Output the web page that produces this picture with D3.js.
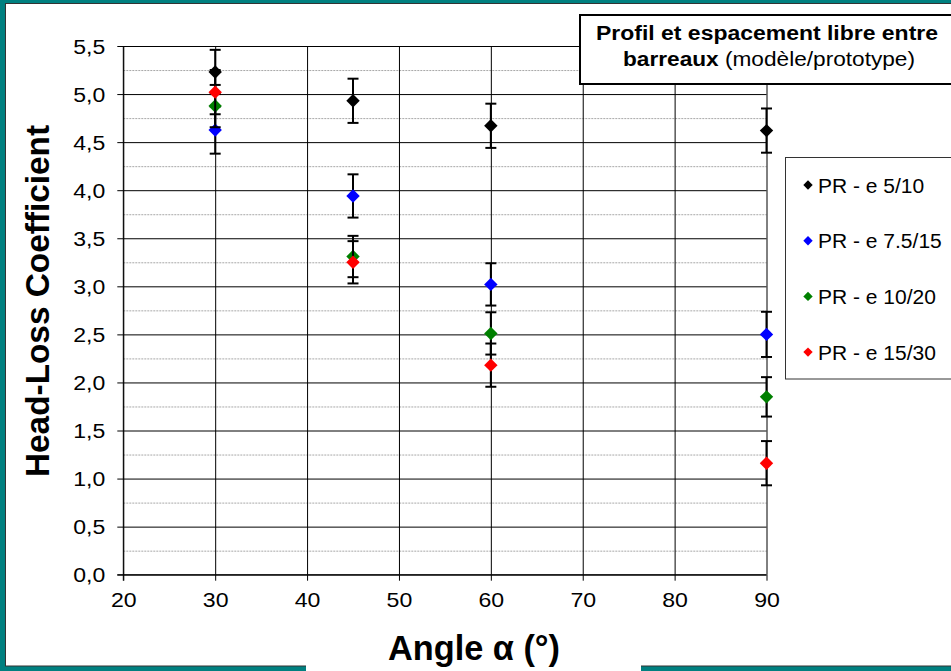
<!DOCTYPE html>
<html><head><meta charset="utf-8">
<script src="https://cdn.jsdelivr.net/npm/d3@7"></script>
<style>
html,body{margin:0;padding:0;background:#fff;}
svg{display:block;font-family:"Liberation Sans",Arial,sans-serif;}
</style></head>
<body><svg id="c" width="951" height="671"></svg>
<script>
// ---- data ----
const angles = [30, 45, 60, 90];
const seriesNames = ["PR - e 5/10", "PR - e 7.5/15", "PR - e 10/20", "PR - e 15/30"];
const seriesColors = ["#000000", "#0000ff", "#008000", "#ff0000"];
const valuesE5 = [5.23, 4.93, 4.67, 4.62];
const errorsE5 = [0.23, 0.23, 0.23, 0.23];
const valuesE75 = [4.625, 3.94, 3.02, 2.50];
const errorsE75 = [0.245, 0.225, 0.22, 0.235];
const valuesE10 = [4.875, 3.31, 2.51, 1.85];
const errorsE10 = [0.22, 0.215, 0.22, 0.205];
const valuesE15 = [5.02, 3.25, 2.18, 1.16];
const errorsE15 = [0.23, 0.22, 0.225, 0.23];
const xTicks = [20, 30, 40, 50, 60, 70, 80, 90];
const yTicks = [0, 0.5, 1, 1.5, 2, 2.5, 3, 3.5, 4, 4.5, 5, 5.5];
const yMinorTicks = [0.25, 0.75, 1.25, 1.75, 2.25, 2.75, 3.25, 3.75, 4.25, 4.75, 5.25];
const titleLine1 = "Profil et espacement libre entre";
const titleLine2Bold = "barreaux";
const titleLine2Normal = " (modèle/prototype)";
const xTitle = "Angle α (°)";
const yTitle = "Head-Loss Coefficient";

const allValues = [valuesE5, valuesE75, valuesE10, valuesE15];
const allErrors = [errorsE5, errorsE75, errorsE10, errorsE15];
const series = seriesNames.map((n, i) => ({
  name: n, color: seriesColors[i],
  pts: angles.map((a, j) => ({x: a, y: allValues[i][j], e: allErrors[i][j]}))
}));

// ---- layout ----
const svg = d3.select("#c");
const W = 951, H = 671;
const teal = "#008080";
const pLeft = 123.3, pRight = 766.5, pTop = 46, pBottom = 574.7;

const x = d3.scaleLinear().domain([20, 90]).range([pLeft, pRight]);
const y = d3.scaleLinear().domain([0, 5.5]).range([pBottom, pTop]);
const fmt = d3.formatLocale({decimal: ",", thousands: " ", grouping: [3], currency: ["", "€"]}).format(".1f");

function stretch(sel, k) {
  sel.each(function () {
    const w = this.getComputedTextLength();
    d3.select(this).attr("textLength", w * k).attr("lengthAdjust", "spacingAndGlyphs");
  });
}

// frame
svg.append("rect").attr("width", W).attr("height", H).attr("fill", teal);
svg.append("rect").attr("x", 5.5).attr("y", 3.5).attr("width", W).attr("height", 662.5)
  .attr("fill", "#fff").attr("stroke", "#333").attr("stroke-width", 1);
svg.append("rect").attr("x", 306).attr("y", 620).attr("width", 335).attr("height", 51).attr("fill", "#fff");

// minor grid (dotted)
svg.append("g").attr("transform", `translate(${pLeft},0)`)
  .call(d3.axisLeft(y).tickValues(yMinorTicks).tickSize(-(pRight - pLeft)).tickFormat(""))
  .call(g => g.select(".domain").remove())
  .call(g => g.selectAll("line").attr("stroke", "#a8a8a8").attr("stroke-dasharray", "2,1"));

// vertical grid
svg.append("g").attr("transform", `translate(0,${pBottom})`)
  .call(d3.axisBottom(x).tickValues(xTicks).tickSize(-(pBottom - pTop)).tickFormat(""))
  .call(g => g.select(".domain").remove())
  .call(g => g.selectAll("line").attr("stroke", "#000"));

// major horizontal grid
svg.append("g").attr("transform", `translate(${pLeft},0)`)
  .call(d3.axisLeft(y).tickValues(yTicks).tickSize(-(pRight - pLeft)).tickFormat(""))
  .call(g => g.select(".domain").remove())
  .call(g => g.selectAll("line").attr("stroke", "#000"));

// y axis
const ya = svg.append("g").attr("transform", `translate(${pLeft},0)`)
  .call(d3.axisLeft(y).tickValues(yTicks).tickSize(6).tickPadding(12).tickFormat(fmt));
ya.select(".domain").attr("stroke", "#000").attr("d", `M0,${pBottom + 6}V${pTop}`);
ya.selectAll("line").attr("stroke", "#000");
ya.selectAll("text").attr("font-size", 20).attr("fill", "#000")
  .attr("font-family", "Liberation Sans, Arial, sans-serif").attr("dy", "0.36em");
stretch(ya.selectAll("text"), 1.15);

// x axis
const xa = svg.append("g").attr("transform", `translate(0,${pBottom})`)
  .call(d3.axisBottom(x).tickValues(xTicks).tickSize(6).tickPadding(11).tickFormat(d3.format("d")));
xa.select(".domain").attr("stroke", "#000").attr("d", `M${pLeft - 6},0H${pRight}`);
xa.selectAll("line").attr("stroke", "#000");
xa.selectAll("text").attr("font-size", 21).attr("fill", "#000")
  .attr("font-family", "Liberation Sans, Arial, sans-serif").attr("dy", "0.71em");
stretch(xa.selectAll("text"), 1.1);

// series
series.forEach(s => {
  const g = svg.append("g");
  const eb = g.selectAll("g.eb").data(s.pts).join("g").attr("class", "eb")
    .attr("stroke", "#000").attr("stroke-width", 2);
  eb.append("line").attr("x1", d => x(d.x)).attr("x2", d => x(d.x))
    .attr("y1", d => y(d.y + d.e)).attr("y2", d => y(d.y - d.e));
  eb.append("line").attr("x1", d => x(d.x) - 5.5).attr("x2", d => x(d.x) + 5.5)
    .attr("y1", d => y(d.y + d.e)).attr("y2", d => y(d.y + d.e));
  eb.append("line").attr("x1", d => x(d.x) - 5.5).attr("x2", d => x(d.x) + 5.5)
    .attr("y1", d => y(d.y - d.e)).attr("y2", d => y(d.y - d.e));
  g.selectAll("path.m").data(s.pts).join("path").attr("class", "m")
    .attr("d", d3.symbol().type(d3.symbolSquare).size(90)())
    .attr("transform", d => `translate(${x(d.x)},${y(d.y)}) rotate(45)`)
    .attr("fill", s.color);
});

// title box
svg.append("rect").attr("x", 580).attr("y", 15).attr("width", 400).attr("height", 69)
  .attr("fill", "#fff").attr("stroke", "#000").attr("stroke-width", 2);
const t1 = svg.append("text").attr("x", 767).attr("y", 40).attr("text-anchor", "middle")
  .attr("font-size", 20).attr("font-weight", "bold").text(titleLine1);
t1.attr("textLength", 342).attr("lengthAdjust", "spacingAndGlyphs");
const t2 = svg.append("text").attr("x", 769).attr("y", 66).attr("text-anchor", "middle").attr("font-size", 20);
t2.append("tspan").attr("font-weight", "bold").text(titleLine2Bold);
t2.append("tspan").text(titleLine2Normal);
t2.attr("textLength", 292).attr("lengthAdjust", "spacingAndGlyphs");

// legend
svg.append("rect").attr("x", 785.5).attr("y", 157.5).attr("width", 200).attr("height", 221.5)
  .attr("fill", "#fff").attr("stroke", "#333").attr("stroke-width", 1);
const lg = svg.selectAll("g.lg").data(series).join("g").attr("class", "lg")
  .attr("transform", (d, i) => `translate(0,${185 + i * 55.7})`);
lg.append("path").attr("d", d3.symbol().type(d3.symbolSquare).size(44)())
  .attr("transform", "translate(808,0) rotate(45)").attr("fill", d => d.color);
const lt = lg.append("text").attr("x", 818).attr("y", 7.5).attr("font-size", 20).text(d => d.name);
stretch(lt, 1.05);

// axis titles
const yt = svg.append("text").attr("transform", `translate(49,301) rotate(-90)`)
  .attr("text-anchor", "middle").attr("font-size", 33).attr("font-weight", "bold").text(yTitle);
yt.attr("textLength", 352).attr("lengthAdjust", "spacingAndGlyphs");
const xt = svg.append("text").attr("x", 474).attr("y", 660).attr("text-anchor", "middle")
  .attr("font-family", "Liberation Sans Narrow, Liberation Sans, Arial, sans-serif")
  .attr("font-size", 35).attr("font-weight", "bold").text(xTitle);
xt.attr("textLength", 172).attr("lengthAdjust", "spacingAndGlyphs");
</script></body></html>
